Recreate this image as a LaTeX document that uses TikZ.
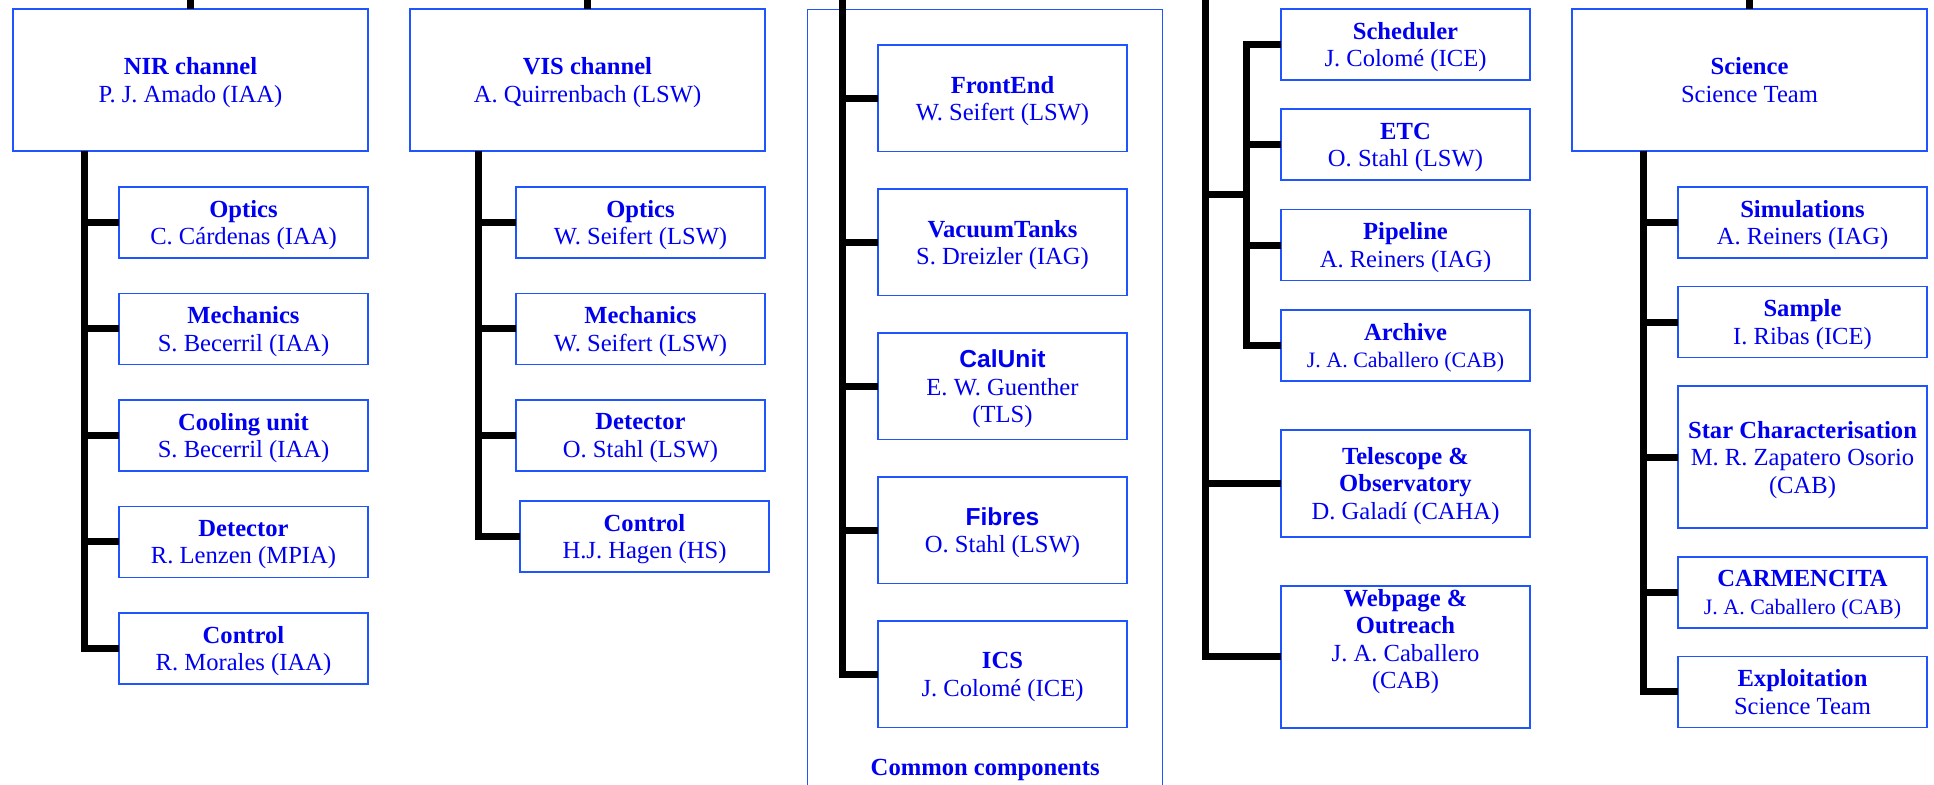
\documentclass[tikz,border=0pt]{standalone}
\usepackage{fontspec}
\setmainfont{Liberation Serif}
\newfontfamily\sansbf{Liberation Sans}
\usetikzlibrary{positioning}
\definecolor{frame}{RGB}{30,85,255}
\definecolor{ink}{RGB}{0,0,240}
\newcommand{\smallname}{\fontsize{11}{12}\selectfont}

\begin{document}
\begin{tikzpicture}[x=0.5pt,y=-0.5pt,font=\fontsize{12.3}{13.7}\selectfont,
b/.style={draw=frame,line width=.85pt,text=ink,align=center,inner sep=0pt,outer sep=0pt,text depth=0pt,minimum width=124.5pt,minimum height=35.5pt},
head/.style={b,minimum width=177.5pt,minimum height=71pt},
b3/.style={b,minimum height=53.25pt},
b4/.style={b,minimum height=71pt},
l/.style={line width=3.5pt}]
\useasboundingbox (0,0) rectangle (1934,785);
\clip (0,0) rectangle (1934,785);
\coordinate (top) at (0,0);
\node[head,anchor=north west](nir) at (13,9){\textbf{NIR channel}\\P. J. Amado (IAA)};
\node[b,anchor=north west](n1) at (119,187){\textbf{Optics}\\C. Cárdenas (IAA)};
\node[b,below=17.75pt of n1](n2){\textbf{Mechanics}\\S. Becerril (IAA)};
\node[b,below=17.75pt of n2](n3){\textbf{Cooling unit}\\S. Becerril (IAA)};
\node[b,below=17.75pt of n3](n4){\textbf{Detector}\\R. Lenzen (MPIA)};
\node[b,below=17.75pt of n4](n5){\textbf{Control}\\R. Morales (IAA)};
\node[head,anchor=north west](vis) at (410,9){\textbf{VIS channel}\\A. Quirrenbach (LSW)};
\node[b,anchor=north west](v1) at (516,187){\textbf{Optics}\\W. Seifert (LSW)};
\node[b,below=17.75pt of v1](v2){\textbf{Mechanics}\\W. Seifert (LSW)};
\node[b,below=17.75pt of v2](v3){\textbf{Detector}\\O. Stahl (LSW)};
\node[b,below=15pt of v3,xshift=2pt](v4){\textbf{Control}\\H.J. Hagen (HS)};
\node[draw=frame,line width=.7pt,minimum width=177.5pt,minimum height=400pt,anchor=north west](common) at (807,9){};
\node[b3,anchor=north west](c1) at (878,45){\textbf{FrontEnd}\\W. Seifert (LSW)};
\node[b3,below=18.75pt of c1](c2){\textbf{VacuumTanks}\\S. Dreizler (IAG)};
\node[b3,below=18.75pt of c2](c3){{\sansbf\bfseries CalUnit}\\E. W. Guenther\\(TLS)};
\node[b3,below=18.75pt of c3](c4){{\sansbf\bfseries Fibres}\\O. Stahl (LSW)};
\node[b3,below=18.75pt of c4](c5){\textbf{ICS}\\J. Colomé (ICE)};
\node[text=ink,inner sep=0pt,anchor=north,yshift=-15.5pt](cc) at (common.north|-c5.south){\textbf{Common components}};
\node[b,anchor=north west](s1) at (1281,9){\textbf{Scheduler}\\J. Colomé (ICE)};
\node[b,below=14.65pt of s1](s2){\textbf{ETC}\\O. Stahl (LSW)};
\node[b,below=14.65pt of s2](s3){\textbf{Pipeline}\\A. Reiners (IAG)};
\node[b,below=14.65pt of s3](s4){\textbf{Archive}\\{\smallname J. A. Caballero (CAB)}};
\node[b3,below=24.65pt of s4](s5){\textbf{Telescope \&}\\\textbf{Observatory}\\D. Galadí (CAHA)};
\node[b4,below=24.5pt of s5](s6){\textbf{Webpage \&}\\\textbf{Outreach}\\J. A. Caballero\\(CAB)\\[4pt]};
\node[head,anchor=north west](sci) at (1572,9){\textbf{Science}\\Science Team};
\node[b,anchor=north west](sc1) at (1678,187){\textbf{Simulations}\\A. Reiners (IAG)};
\node[b,below=14.3pt of sc1](sc2){\textbf{Sample}\\I. Ribas (ICE)};
\node[b4,below=14.3pt of sc2](sc3){\textbf{Star Characterisation}\\M. R. Zapatero Osorio\\(CAB)};
\node[b,below=14.3pt of sc3](sc4){\textbf{CARMENCITA}\\{\smallname J. A. Caballero (CAB)}};
\node[b,below=14.3pt of sc4](sc5){\textbf{Exploitation}\\Science Team};
\coordinate[left=17.5pt of n1](nx);\coordinate[left=19pt of v1](vx);\coordinate[left=18pt of c1](cx);
\coordinate (mx) at (1205,0);\coordinate (j) at (1246,195);\coordinate[left=17.5pt of sc1](scx);
\draw[l](nir.north)--(nir.north|-top);\draw[l](vis.north)--(vis.north|-top);\draw[l](sci.north)--(sci.north|-top);
\draw[l](nx|-nir.south)|-(n5.west);\foreach \i in {1,...,4}\draw[l](nx|-n\i.west)--(n\i.west);
\draw[l](vx|-vis.south)|-(v4.west);\foreach \i in {1,...,3}\draw[l](vx|-v\i.west)--(v\i.west);
\draw[l](cx|-top)|-(c5.west);\foreach \i in {1,...,4}\draw[l](cx|-c\i.west)--(c\i.west);
\draw[l](mx)|-(s6.west);\draw[l](mx|-s5.west)--(s5.west);\draw[l](mx|-j)--(j);
\draw[l](s1.west)-|(j)|-(s4.west);\draw[l](s2.west)--(s2.west-|j);\draw[l](s3.west)--(s3.west-|j);
\draw[l](scx|-sci.south)|-(sc5.west);\foreach \i in {1,...,4}\draw[l](scx|-sc\i.west)--(sc\i.west);
\end{tikzpicture}
\end{document}
